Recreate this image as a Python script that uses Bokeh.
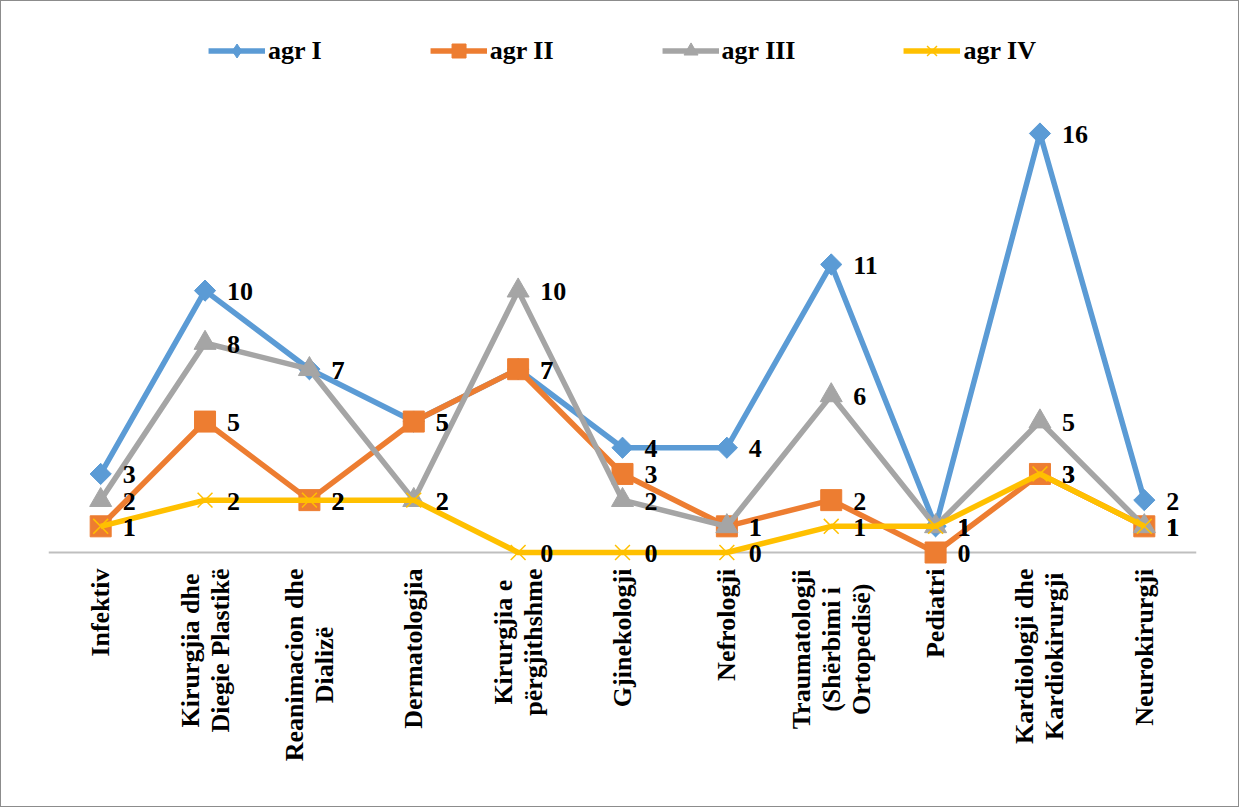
import numpy as np
from bokeh.plotting import figure
from bokeh.models import FactorRange, Range1d, Span, Legend, LegendItem
from bokeh.core.properties import value
from bokeh.embed import file_html
from bokeh.resources import INLINE

# ---------------- data ----------------
categories = [
    "Infektiv",
    "Kirurgjia dhe\nDiegie Plastikë",
    "Reanimacion dhe\nDializë",
    "Dermatologjia",
    "Kirurgjia e\npërgjithshme",
    "Gjinekologji",
    "Nefrologji",
    "Traumatologji\n(Shërbimi i\nOrtopedisë)",
    "Pediatri",
    "Kardiologji dhe\nKardiokirurgji",
    "Neurokirurgji",
]
agr_I = [3, 10, 7, 5, 7, 4, 4, 11, 1, 16, 2]
agr_II = [1, 5, 2, 5, 7, 3, 1, 2, 0, 3, 1]
agr_III = [2, 8, 7, 2, 10, 2, 1, 6, 1, 5, 1]
agr_IV = [1, 2, 2, 2, 0, 0, 0, 1, 1, 3, 1]
series_names = ["agr I", "agr II", "agr III", "agr IV"]

# ---------------- styles ----------------
FONT = "Liberation Serif"
FS = 26
colors = ["#5B9BD5", "#ED7D31", "#A5A5A5", "#FFC000"]
markers = ["diamond", "square", "triangle", "x"]
msizes = [20, 21, 22, 21]

W, H = 1239, 807
frame_left, frame_right, frame_top, frame_bottom = 47, 1195, 10, 806
zero_px, sixteen_px = 551, 132
label_top_px = 567
line_h = 30
unit = (zero_px - sixteen_px) / 16.0
y_start = -(frame_bottom - zero_px) / unit
y_end = y_start + (frame_bottom - frame_top) / unit

# approximate advance widths (Times/Liberation Serif Bold, per 1000 em) for centring label lines
_w = {" ": 250, "(": 333, ")": 333, "D": 722, "I": 389, "K": 778, "N": 722, "O": 778,
      "P": 611, "R": 722, "S": 556, "T": 667, "G": 778, "a": 500, "b": 556, "c": 444,
      "d": 556, "e": 444, "f": 333, "g": 500, "h": 556, "i": 278, "j": 333, "k": 556,
      "l": 278, "m": 833, "n": 556, "o": 500, "p": 556, "r": 444, "s": 389, "t": 333,
      "u": 556, "v": 500, "z": 444, "ë": 444}


def text_w(s):
    return sum(_w.get(ch, 500) for ch in s) / 1000.0 * FS


p = figure(
    width=W, height=H,
    x_range=FactorRange(*categories, range_padding=0),
    y_range=Range1d(y_start, y_end),
    output_backend="svg", toolbar_location=None,
    x_axis_location=None, y_axis_location=None,
    min_border_left=frame_left, min_border_right=W - frame_right,
    min_border_top=frame_top, min_border_bottom=H - frame_bottom,
)
p.styles = {"border": "1px solid #8C8C8C"}
p.outline_line_color = None
p.xgrid.visible = False
p.ygrid.visible = False
p.background_fill_color = "white"
p.border_fill_color = "white"

# category axis line
p.add_layout(Span(location=0, dimension="width", line_color="#BFBFBF",
                  line_width=2, level="underlay"))

# category labels: rotated, lines centred on each other, block hanging below the axis
lab_x, lab_text, lab_xoff, lab_yoff = [], [], [], []
for cat in categories:
    lines = cat.split("\n")
    n = len(lines)
    maxw = max(text_w(ln) for ln in lines)
    for i, ln in enumerate(lines):
        lab_x.append(cat)
        lab_text.append(ln)
        lab_xoff.append((i - (n - 1) / 2.0) * line_h)
        lab_yoff.append(label_top_px - zero_px + maxw / 2.0)
p.text(x=lab_x, y=[0] * len(lab_x), text=lab_text, angle=np.pi / 2,
       x_offset=lab_xoff, y_offset=lab_yoff,
       text_font=value(FONT), text_font_style="bold", text_font_size=f"{FS}px",
       text_color="black", text_align="center", text_baseline="middle")

series = [agr_I, agr_II, agr_III, agr_IV]
items = []
for name, vals, c, mk, ms in zip(series_names, series, colors, markers, msizes):
    rl = p.line(x=categories, y=vals, line_color=c, line_width=5.5, line_join="round")
    if mk == "x":
        rm = p.scatter(x=categories, y=vals, marker=mk, size=ms, line_color=c, line_width=1.5)
    else:
        rm = p.scatter(x=categories, y=vals, marker=mk, size=ms,
                       fill_color=c, line_color=c, line_width=1)
    if mk == "diamond":
        # Excel-style diamond: a square turned by 45 degrees, covering the narrow diamond
        p.scatter(x=categories, y=vals, marker="square", size=15, angle=np.pi / 4,
                  fill_color=c, line_color=c, line_width=1)
    items.append(LegendItem(label=name, renderers=[rl, rm]))

for vals in series:
    p.text(x=categories, y=vals, text=[str(v) for v in vals],
           text_font=value(FONT), text_font_style="bold", text_font_size=f"{FS}px",
           text_color="black", text_align="left", text_baseline="middle",
           x_offset=22, y_offset=1)

legend = Legend(items=items, orientation="horizontal", location="top_center",
                spacing=108, glyph_width=57, glyph_height=35, label_standoff=3,
                padding=0, margin=22, border_line_color=None,
                background_fill_alpha=0,
                label_text_font=FONT, label_text_font_style="bold",
                label_text_font_size=f"{FS}px", label_text_color="black")
p.add_layout(legend)

open("out.html", "w").write(file_html(p, INLINE))
